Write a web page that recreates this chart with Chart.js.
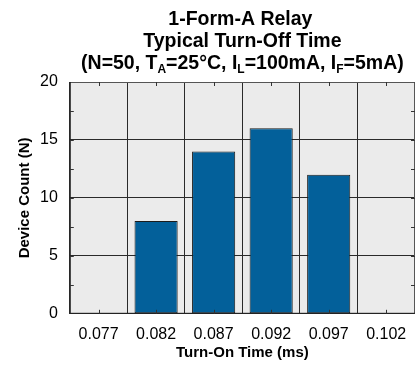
<!DOCTYPE html>
<html>
<head>
<meta charset="utf-8">
<script src="https://cdn.jsdelivr.net/npm/chart.js@4.4.0/dist/chart.umd.min.js"></script>
<style>
  html, body { margin: 0; padding: 0; background: #fff; }
  #wrap { width: 420px; height: 365px; }
</style>
</head>
<body>
<div id="wrap"><canvas id="relayChart" width="420" height="365"></canvas></div>
<script>
// data
var timeLabels = ['0.077', '0.082', '0.087', '0.092', '0.097', '0.102'];
var deviceCounts = [0, 8, 14, 16, 12, 0];
var yMin = 0, yMax = 20, yStep = 5;

var titleLine1 = '1-Form-A Relay';
var titleLine2 = 'Typical Turn-Off Time';
// third line with subscripts
var titleLine3 = [
    ['(N=50, T', false], ['A', true], ['=25°C, I', false], ['L', true],
    ['=100mA, I', false], ['F', true], ['=5mA)', false]
];

var FONT = '"Liberation Sans", Arial, Helvetica, sans-serif';

// plot background, frame, inside ticks and the title
var framePlugin = {
    id: 'frame',
    beforeDraw: function (chart) {
        var a = chart.chartArea, ctx = chart.ctx;
        ctx.save();
        ctx.fillStyle = '#ebebeb';
        ctx.fillRect(a.left, a.top, a.right - a.left, a.bottom - a.top);
        ctx.restore();
    },
    afterDraw: function (chart) {
        var a = chart.chartArea, ctx = chart.ctx;
        var xs = chart.scales.x, ys = chart.scales.y;
        ctx.save();
        ctx.lineWidth = 1;
        // frame
        ctx.strokeStyle = '#555';
        ctx.beginPath();
        ctx.moveTo(a.left + 0.5, a.top + 0.5);
        ctx.lineTo(a.right - 0.5, a.top + 0.5);
        ctx.lineTo(a.right - 0.5, a.bottom);
        ctx.stroke();
        ctx.strokeStyle = '#222';
        ctx.beginPath();
        ctx.moveTo(a.left + 0.5, a.top);
        ctx.lineTo(a.left + 0.5, a.bottom - 0.5);
        ctx.lineTo(a.right, a.bottom - 0.5);
        ctx.stroke();
        // small ticks inside the frame
        ctx.strokeStyle = '#333';
        ctx.beginPath();
        for (var v = yMin + yStep / 2; v < yMax; v += yStep / 2) {
            var py = Math.round(ys.getPixelForValue(v)) + 0.5;
            ctx.moveTo(a.left, py); ctx.lineTo(a.left + 4, py);
            ctx.moveTo(a.right, py); ctx.lineTo(a.right - 4, py);
        }
        for (var i = 0; i < timeLabels.length; i++) {
            var px = Math.round(xs.getPixelForValue(i)) + 0.5;
            ctx.moveTo(px, a.bottom); ctx.lineTo(px, a.bottom - 4);
            ctx.moveTo(px, a.top); ctx.lineTo(px, a.top + 4);
        }
        ctx.stroke();

        // title, centred over the plot
        var cx = (a.left + a.right) / 2;
        ctx.fillStyle = '#000';
        ctx.textBaseline = 'alphabetic';
        ctx.textAlign = 'center';
        ctx.font = 'bold 19.5px ' + FONT;
        ctx.fillText(titleLine1, cx - 2, 25);
        ctx.fillText(titleLine2, cx, 47);
        // third line
        ctx.textAlign = 'left';
        var total = 0;
        titleLine3.forEach(function (s) {
            ctx.font = (s[1] ? 'bold 12px ' : 'bold 19.5px ') + FONT;
            total += ctx.measureText(s[0]).width;
        });
        var x = cx - total / 2;
        titleLine3.forEach(function (s) {
            ctx.font = (s[1] ? 'bold 12px ' : 'bold 19.5px ') + FONT;
            ctx.fillText(s[0], x, s[1] ? 73 : 69);
            x += ctx.measureText(s[0]).width;
        });
        ctx.restore();
    }
};

var relayCtx = document.getElementById('relayChart').getContext('2d');
var relayChart = new Chart(relayCtx, {
    type: 'bar',
    data: {
        labels: timeLabels,
        datasets: [{
            data: deviceCounts,
            backgroundColor: '#03609a',
            borderColor: '#1c1c1c',
            borderWidth: 1,
            borderSkipped: false,
            categoryPercentage: 1.0,
            barPercentage: 0.75
        }]
    },
    options: {
        responsive: false,
        animation: false,
        devicePixelRatio: 1,
        layout: { padding: { top: 82, right: 5, left: 16, bottom: 3 } },
        plugins: {
            legend: { display: false },
            title: { display: false },
            tooltip: { enabled: false }
        },
        scales: {
            x: {
                grid: { offset: true, color: '#2a2a2a', lineWidth: 1, drawTicks: false },
                border: { display: false },
                ticks: { color: '#000', font: { family: FONT, size: 16 }, padding: 11 },
                title: {
                    display: true,
                    text: 'Turn-On Time (ms)',
                    color: '#000',
                    font: { family: FONT, size: 15, weight: 'bold' },
                    padding: { top: -11, bottom: 0 }
                }
            },
            y: {
                min: yMin,
                max: yMax,
                ticks: { stepSize: yStep, color: '#000', font: { family: FONT, size: 16 }, padding: 12 },
                grid: { color: '#2a2a2a', lineWidth: 1, drawTicks: false },
                border: { display: false },
                title: {
                    display: true,
                    text: 'Device Count (N)',
                    color: '#000',
                    font: { family: FONT, size: 15, weight: 'bold' },
                    padding: { top: 0, bottom: -6 }
                }
            }
        }
    },
    plugins: [framePlugin]
});
</script>
</body>
</html>
